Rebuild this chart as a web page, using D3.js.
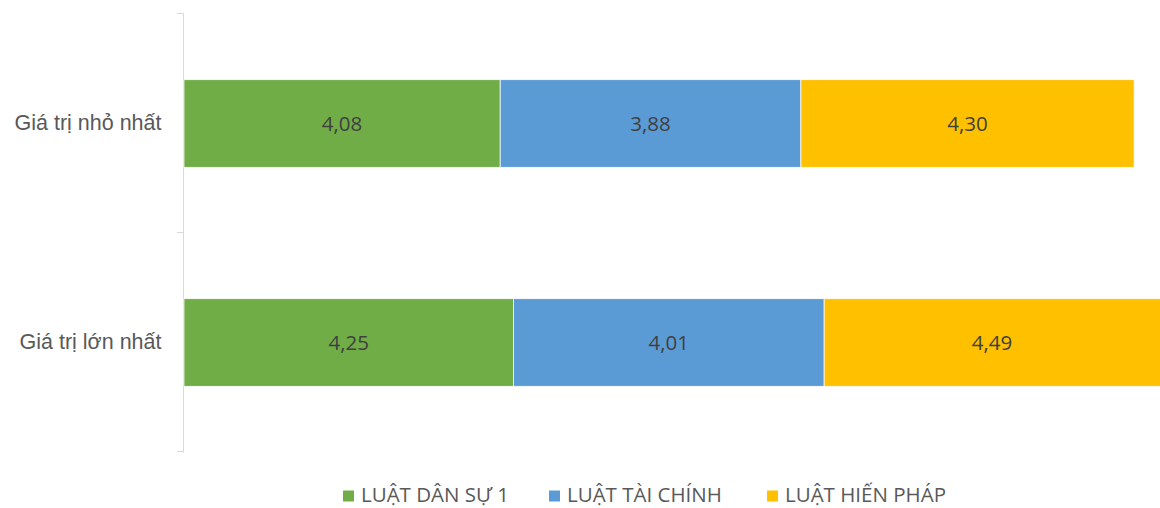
<!DOCTYPE html>
<html lang="vi">

<head>
  <meta charset="UTF-8">
  <script src="https://d3js.org/d3.v7.min.js" charset="utf-8"></script>
  <title>bar</title>
  <style>
    body { margin: 0; background: #fff; }
    svg { display: block; font-family: "Open Sans", "Noto Sans", sans-serif; }
  </style>
</head>

<body>
</body>
<script>
  // dữ liệu
  let categories = ['Giá trị nhỏ nhất', 'Giá trị lớn nhất']
  let seriesNames = ['LUẬT DÂN SỰ 1', 'LUẬT TÀI CHÍNH', 'LUẬT HIẾN PHÁP']
  let danSu = [4.08, 4.25]
  let taiChinh = [3.88, 4.01]
  let hienPhap = [4.30, 4.49]
  let colors = ['#70ad47', '#5b9bd5', '#ffc000']

  let width = 1160
  let height = 508
  let fontSize = 20.5

  let svg = d3.select('body')
    .append('svg')
    .attr('width', width)
    .attr('height', height)

  let rows = categories.map((c, i) => ({
    cat: c,
    s0: danSu[i],
    s1: taiChinh[i],
    s2: hienPhap[i]
  }))

  let stack = d3.stack().keys(['s0', 's1', 's2'])(rows)

  // trục ngang (không vẽ)
  let x = d3.scaleLinear()
    .domain([0, 14])
    .range([184, 184 + 14 * 77.5])

  let y = d3.scaleBand()
    .domain(categories)
    .range([14, 452])
    .paddingInner(0.6)
    .paddingOuter(0.3)

  // trục dọc
  let yAxis = d3.axisLeft(y).tickSize(0).tickPadding(22)
  let gy = svg.append('g')
    .attr('transform', 'translate(183.5,0)')
    .call(yAxis)
  gy.select('.domain').remove()
  gy.selectAll('text')
    .attr('font-size', 21.5)
    .attr('font-family', null)
    .attr('fill', '#595959')

  // đường trục và vạch chia giữa các nhóm
  let gridY = [14, 14 + y.step(), 452]
  svg.append('line')
    .attr('x1', 183.5).attr('x2', 183.5)
    .attr('y1', 13).attr('y2', 452.5)
    .attr('stroke', '#d9d9d9')
  svg.selectAll('.tick-mark')
    .data(gridY)
    .enter()
    .append('line')
    .attr('x1', 177).attr('x2', 183.5)
    .attr('y1', d => Math.round(d) - 0.5)
    .attr('y2', d => Math.round(d) - 0.5)
    .attr('stroke', '#d9d9d9')

  // thanh
  let groups = svg.selectAll('.series')
    .data(stack)
    .enter()
    .append('g')
    .attr('fill', (d, i) => colors[i])

  groups.selectAll('rect')
    .data(d => d)
    .enter()
    .append('rect')
    .attr('x', d => x(d[0]))
    .attr('y', d => y(d.data.cat))
    .attr('width', d => x(d[1]) - x(d[0]))
    .attr('height', y.bandwidth())
    .attr('stroke', '#fff')
    .attr('stroke-width', 0.75)

  groups.selectAll('text')
    .data(d => d.map(v => ({ v: v, val: v[1] - v[0] })))
    .enter()
    .append('text')
    .attr('x', d => (x(d.v[0]) + Math.min(x(d.v[1]), width)) / 2)
    .attr('y', d => y(d.v.data.cat) + y.bandwidth() / 2)
    .attr('dy', '0.35em')
    .attr('text-anchor', 'middle')
    .attr('font-size', fontSize)
    .attr('fill', '#404040')
    .text(d => d3.format('.2f')(d.val).replace('.', ','))

  // chú giải
  let legendX = [343, 549, 767]
  let legend = svg.selectAll('.legend')
    .data(seriesNames)
    .enter()
    .append('g')
    .attr('transform', (d, i) => 'translate(' + legendX[i] + ',495)')
  legend.append('rect')
    .attr('x', 0).attr('y', -4.5)
    .attr('width', 11).attr('height', 11)
    .attr('fill', (d, i) => colors[i])
  legend.append('text')
    .attr('x', 18)
    .attr('y', 0)
    .attr('dy', '0.35em')
    .attr('font-size', fontSize)
    .attr('fill', '#595959')
    .text(d => d)
</script>

</html>
